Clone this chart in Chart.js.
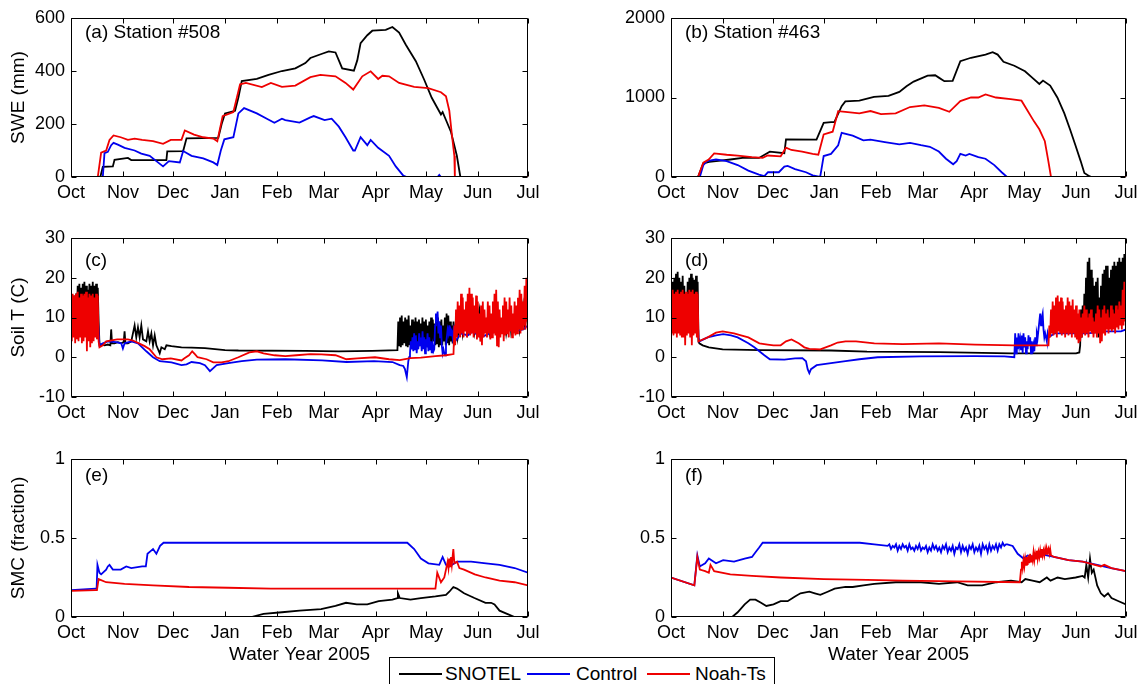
<!DOCTYPE html>
<html>
<head>
<meta charset="utf-8">
<title>Water Year 2005 – SWE, soil temperature and soil moisture</title>
<script src="https://cdn.jsdelivr.net/npm/chart.js@4.4.0/dist/chart.umd.min.js"></script>
<style>
  html, body { margin: 0; padding: 0; background: #fff; }
  body { width: 1145px; height: 684px; position: relative; overflow: hidden;
         font-family: 'Liberation Sans', Arial, sans-serif; }
  canvas { position: absolute; }
  #legend { position: absolute; left: 389px; top: 657px; width: 386px; height: 40px;
            border: 1px solid #000; background: #fff; box-sizing: border-box; }
  #legend .ln { position: absolute; top: 15px; width: 43px; height: 0; border-top: 2px solid; }
  #legend .tx { position: absolute; top: 5px; font-size: 19px; line-height: 22px; color: #000; white-space: nowrap; }
</style>
</head>
<body>
<canvas id="pa" width="560" height="205" style="left:0;top:0"></canvas>
<canvas id="pb" width="545" height="205" style="left:600px;top:0"></canvas>
<canvas id="pc" width="560" height="225" style="left:0;top:205px"></canvas>
<canvas id="pd" width="545" height="225" style="left:600px;top:205px"></canvas>
<canvas id="pe" width="560" height="254" style="left:0;top:430px"></canvas>
<canvas id="pf" width="545" height="254" style="left:600px;top:430px"></canvas>
<div id="legend">
  <div class="ln" style="left:9px;border-color:#000"></div><div class="tx" style="left:55px">SNOTEL</div>
  <div class="ln" style="left:137px;border-color:#0000ee"></div><div class="tx" style="left:186px">Control</div>
  <div class="ln" style="left:257px;border-color:#ee0000"></div><div class="tx" style="left:305px">Noah-Ts</div>
</div>
<script>
// ---------------- axis tick data (days since 1 Oct 2004) ----------------
const MONTH_DAYS  = [0, 31, 61, 92, 123, 151, 182, 212, 243, 273];
const MONTH_NAMES = ['Oct', 'Nov', 'Dec', 'Jan', 'Feb', 'Mar', 'Apr', 'May', 'Jun', 'Jul'];

// ---------------- SWE (mm), station #508: [day, value] ----------------
const swe508_snotel = [[0,0],[17.5,0],[19,38],[25,40],[26,65],[34,72],[36,64],[57,64],[57.5,97],[67,98],[69,146],[88,148],[90,200],[92,240],[98,250],[100,300],[102,362],[111,370],[118,385],[126,400],[134,410],[140,430],[143,449],[150,465],[154,474],[158,470],[160,440],[162,410],[169,401],[171,440],[173,505],[177,535],[180,552],[188,555],[192,566],[196,545],[200,499],[206,437],[211,367],[215.5,299],[221,236],[222,245],[224,215],[227,170],[230.5,80],[232.6,0],[273,0]];
const swe508_control = [[0,0],[19,0],[20,90],[22,95],[24,120],[25.4,129],[28,122],[32,110],[38,100],[42,88],[47,80],[51,60],[55,40],[58.5,60],[65,55],[67,98],[72,80],[79,70],[85,55],[87.4,45],[89.5,100],[91.6,142],[97,150],[100,240],[103.4,260],[111,240],[117,220],[121.5,205],[126,220],[128,215],[136.5,205],[143,225],[145,230],[151.5,215],[155.7,220],[160,190],[164,150],[168.6,100],[169.6,100],[173,150],[177,120],[179,140],[183.5,110],[190,80],[194,40],[198.5,5],[200.6,0],[219,0],[220,8],[221,0],[273,0]];
const swe508_noah = [[0,0],[16,0],[18,92],[21,100],[23,140],[25.4,157],[29.7,150],[34,140],[38,145],[42.5,140],[49,135],[55,125],[59.6,140],[66,140],[68,176],[73.5,160],[79,150],[85,145],[87.4,135],[90.6,230],[97,245],[101,350],[104.5,355],[114,339],[119.4,355],[126,340],[134,345],[143,377],[149,385],[158,380],[164,355],[168.6,330],[174,380],[179,399],[183.5,370],[186,382],[190,380],[196,355],[205,340],[213.4,335],[221,320],[224,305],[226,250],[227.7,150],[229,80],[229.3,0],[273,0]];

// ---------------- SWE (mm), station #463 ----------------
const swe463_snotel = [[0,0],[16.2,0],[19.4,172],[23,190],[27,200],[35.6,220],[44,243],[52.8,240],[59.3,318],[68,300],[69,473],[87.3,470],[91.6,682],[96,690],[98,690],[102.4,891],[104.6,950],[113,960],[121.8,1008],[130.5,1020],[137,1070],[141.3,1142],[145.6,1200],[154,1276],[158.5,1280],[160.7,1250],[164,1205],[169,1210],[173.6,1456],[180,1500],[188.7,1540],[193,1569],[196,1540],[199.5,1450],[206,1400],[212.4,1330],[216.7,1250],[221,1170],[223.2,1213],[227.5,1150],[231.8,1000],[236,800],[239.4,600],[242.6,402],[245.8,200],[248,50],[251,10],[252.3,0],[273,0]];
const swe463_control = [[0,0],[17.3,0],[19.4,150],[21.6,200],[27,220],[33.4,200],[40,150],[46.4,80],[52.8,30],[56,10],[58.2,60],[64.7,60],[68,130],[70,140],[74.4,100],[81,60],[85,20],[89.5,0],[91.6,264],[96,290],[100.3,400],[102.4,556],[109,520],[115.4,460],[119.7,470],[128.3,440],[137,410],[143.4,430],[150,400],[155.3,380],[160.7,320],[165,230],[169.3,160],[171.4,200],[173.6,290],[176.8,270],[179,290],[184.4,250],[188.7,230],[194,150],[198.4,60],[201.6,0],[273,0]];
const swe463_noah = [[0,0],[16.2,0],[19.4,180],[22.6,220],[25.9,297],[33.4,280],[40,270],[48.5,250],[55,240],[58,270],[65.8,260],[69,368],[72.2,340],[78.7,320],[85,290],[88.4,280],[91.6,535],[97,570],[100.3,828],[104.6,820],[113,800],[119.7,830],[126,790],[134.8,800],[143.4,880],[152,900],[160.7,870],[167,820],[173.6,954],[180,1000],[184.4,1000],[188.7,1038],[195,1000],[203.8,980],[210.3,960],[213.5,850],[217.8,700],[221,600],[224.3,450],[226.4,200],[228,0],[273,0]];

// ---------------- Soil T (C), station #508 ----------------
// half-daily highs/lows for the diurnal periods, [day, value] pairs elsewhere
const soilT508_snotel_oct = [14,9,15,9,15.5,9,16,10,18,10,18.5,10,17.5,10,18.5,10,19,10,18,11,17,10.5,18.5,10,18,10,19,10,18,10,18.5,10,17.5,9,3.5];
const soilT508_snotel_mid = [[17.5,3],[18,3.2],[20,3],[22,3.2],[23.5,3],[24,7],[24.5,3.5],[26,3.5],[28,3.8],[30,3.5],[31.5,3.8],[32,6.5],[32.5,3.5],[34,3.5],[36,4],[37,6],[38,8],[39,5],[40,7.5],[41,5],[42,8],[43,4.5],[45,4],[46,6.5],[47,4],[48,6],[49,3],[50,5.5],[51,3],[53,1],[54,2.5],[56,2],[57,3],[60,2.8],[66,2.5],[72,2.4],[80,2.3],[92,1.8],[100,1.7],[140,1.6],[160,1.5],[180,1.6],[195,1.8]];
const soilT508_snotel_spr = [9,3,10,2.5,10.5,3,9,3.5,10,3,9.5,2.5,10.5,3,8,3,9.5,4,9,3,10,2.5,9,3,9.5,3,8.5,3,10,3.5,9,3,9.5,3.5,8,3,9,2.5,10,3,9.5,4,8.5,3,9,3.5,10,2.5,9,3,9.5,3,8,4,10,3,11,3.5,10.5,3,9,4,8,3.5,9,4];
const soilT508_snotel_jun = [[229.5,5],[230,10],[231,5],[233,11],[234,6],[236,12],[237,6],[240,10],[241,6],[244,12],[245,5],[249,10],[250,6],[254,13],[255,6],[259,10],[260,6],[262,11],[263,6],[267,12],[268,7],[270,13],[271,7],[273,14]];
const soilT508_control_oct = [[0,12],[4,8],[8,12],[12,8],[16,10]];
const soilT508_control_mid = [[17,3],[19,3.5],[22,4],[27,3.8],[30,3.5],[31,2.2],[32,3.5],[36,4],[40,3.5],[45,1.5],[49,0],[53,-1],[60,-1.3],[66,-2],[69,-1.8],[72,-1.2],[77,-1.5],[80,-2],[83,-3.5],[87,-2],[94,-1.5],[102,-1],[111,-0.6],[128,-0.5],[150,-0.8],[164.6,-1.2],[181,-1],[192,-1.2],[196.4,-2],[198.5,-2.2],[199.5,-3],[200.6,-5],[201.5,-1]];
const soilT508_control_spr = [0,1,4,2,5,1.5,6,2,5.5,1,4,2,6,3,5,1.5,6.5,2,5,1,4.5,2.5,6,1.5,5,2,4,1,3,1.5,2,8,11,9,11.5,6,9,5,8,3,1,2,1,0.5,3,5,7,6,8,5.5,7,6.5,5,7,6];
const soilT508_control_jun = [[229.5,4],[233,6],[237,5.5],[240,6.5],[245,5],[250,6],[255,6.5],[260,7],[265,6.5],[270,7],[273,8]];
const soilT508_noah_oct = [15,4,16,5,15.5,3.5,16,4.5,16.5,4,15,5,16,3.5,15.5,4,16,5,16.5,1.5,15,4,16,2.5,15.5,3.5,16,4,15,5,16,4.5,15.5,4];
const soilT508_noah_mid = [[17,2.5],[19,3],[21,4],[27.6,4.5],[34,4.5],[37,4.2],[40.6,3.5],[44,2.8],[47,2],[51,0],[54.6,-0.5],[59.6,-0.3],[66,-0.8],[68,-0.2],[70.5,0.5],[72.4,1.5],[74,0.8],[75.6,0],[81,-0.5],[85,-1.3],[90,-1.3],[94,-1],[100,0],[106.6,1.2],[111,1.5],[115,1],[121.6,0.5],[128,0.3],[134.6,0.5],[143,0.8],[149.6,0.7],[158,0.5],[160,0.2],[164.5,-0.5],[171,-0.3],[181.6,0],[190,-0.5],[196.4,-0.7],[202.8,-0.2],[209,-0.1],[217.7,0.3],[224,0.5],[228.5,0.8]];
const soilT508_noah_jun = [8,3,12,5,14,6,13,5,16,6,15,5,12,6.5,14,5,16,6,17.5,5.5,16,6,15,5,13,6,15.5,4.5,14,5,11,4,13,3,14,5,12,6,10,5,14,6,13,4.5,11,5,14,6,16,5.5,17,3,14,2.5,12,5,10,6,13,4,15,5.5,14,6,12,5,15,6.5,13,5,11,6,14,5.5,13,6,15,7,17,6,16,7,14,8,18,7,20,9,22];

// ---------------- Soil T (C), station #463 ----------------
const soilT463_snotel_oct = [18,8,19,8,20,9,21,9,21.5,9,20,8,19,9,20.5,9,18,10,12,10,19,9,20,9,21,9,20,8,19.5,8,20.5,9,19,4];
const soilT463_snotel_mid = [[17,3.5],[19,3],[22.7,2.5],[31,2],[53,1.8],[96,1.7],[117.6,1.4],[161,1.3],[204,1],[243,1],[245,1.2]];
const soilT463_snotel_jun = [3,12,5,13,6,16,7,20,8,24,9,25,8,22,9,20,8,18,7,19,8,20,5,15,6,18,8,21,9,22,8,23,9,23,8,20,9,22,10,23,9,24,10,23,9,24,10,25,11,24,10,25,11,26,12,27];
const soilT463_control_oct = [[0,10],[16,10]];
const soilT463_control_mid = [[16.5,5],[17,4],[22,5],[27,5.5],[31.3,5.8],[36,5.5],[40,5],[46.4,3.5],[50,2.5],[53,1.5],[56,0.5],[59.3,-0.5],[68,-0.6],[74.4,-0.3],[78.8,-0.2],[81,-1],[82,-3],[83,-4],[84,-3],[87.4,-2],[96,-1.5],[104.7,-1],[113,-0.5],[124,0],[150,0.2],[182,0.3],[200,0.2],[206,0]];
const soilT463_control_spr = [6,1,5,2,6,3,4.5,2,5.5,1,6,2.5,5,1,4,2,5.5,3,5,1,4,1,3,1.5,5,3,6,5,7,9,11,8,10,11,7,5,6,5,4,6];
const soilT463_control_jun = [[226.5,5],[230,6],[240,6],[250,6],[260,6.5],[270,6.5],[273,7]];
const soilT463_noah_oct = [16,6,17,5.5,16,6,16.5,5,17,6,16,5.5,16.5,5,17,5,16,3,16.5,5.5,16,6,17,5,16.5,3,17,5.5,16,6,16.5,5,16];
const soilT463_noah_mid = [[16.5,4],[17,4.1],[22,5],[27,6.2],[31,6.5],[37.8,6],[42,5.5],[46.4,5],[53,3.5],[58,3.2],[61.5,3],[65.8,3],[69,4],[72.3,4.5],[76.6,3.5],[80,2.5],[83,2.1],[89.6,2],[96,3],[100,3.7],[104.7,4],[111,4],[122,3.5],[139,3.3],[160.8,3.5],[182.4,3.2],[206,3],[225.5,3]];
const soilT463_noah_jun = [3,8,5,12,6,14,5.5,13,6,15,5,15.5,6.5,14,6,15,5.5,14,6,12,5,13,6,15,5.5,14,6,13,5,14.5,6,12,5,13,4.5,11,3.5,12,4,10,5,11,6,13,5.5,12,6,10,5,11,6.5,12,6,10,5,9,6,11,5,13,6,12,3.5,10,4,12,6,13,5.5,11,7,12,6,10,7,13,6.5,12,7,11,6,13,7.5,12,7,14,8,13,7,17,8,19,9,20];

// ---------------- SMC (fraction), station #508 ----------------
const smc508_snotel = [[0,0],[107.7,0],[115,0.02],[126,0.03],[136.5,0.04],[149.4,0.05],[158,0.07],[164.3,0.09],[170.7,0.08],[177,0.08],[183.8,0.1],[192,0.11],[195,0.12],[195.3,0.15],[196.4,0.12],[202.8,0.11],[209,0.12],[217.7,0.13],[224,0.14],[226,0.16],[228.4,0.19],[230.6,0.18],[234.8,0.15],[241,0.12],[247.6,0.09],[251,0.09],[253,0.08],[256,0.04],[260.5,0.02],[265,0],[273,0]];
const smc508_control = [[0,0.17],[14.7,0.18],[15.3,0.18],[15.8,0.33],[17,0.28],[18,0.27],[21,0.3],[22,0.32],[23,0.33],[25,0.3],[29.7,0.3],[33,0.32],[36,0.31],[42.5,0.32],[44.7,0.32],[45.7,0.4],[47.9,0.42],[49,0.43],[51,0.4],[53.2,0.45],[55.3,0.47],[200.9,0.47],[205,0.43],[209,0.37],[213.5,0.34],[220,0.33],[222,0.38],[224,0.33],[226,0.32],[230.6,0.35],[239,0.35],[247.9,0.34],[256,0.33],[265,0.31],[273,0.28]];
const smc508_noah = [[0,0.165],[14.7,0.17],[15.5,0.17],[16.5,0.24],[21,0.22],[32,0.21],[49,0.2],[70.5,0.19],[93.8,0.185],[119.4,0.18],[217.7,0.18],[218.8,0.28],[221,0.22],[223,0.25],[224,0.3],[225,0.35],[225.5,0.31],[226,0.37],[226.5,0.32],[227,0.38],[227.5,0.33],[228.4,0.43],[229,0.34],[230.6,0.35],[232,0.31],[234.8,0.3],[241.2,0.27],[247.6,0.25],[256,0.23],[265,0.22],[273,0.2]];

// ---------------- SMC (fraction), station #463 ----------------
const smc463_snotel = [[0,0],[36.7,0],[40,0.03],[44.2,0.08],[47.5,0.11],[50.7,0.11],[54,0.09],[57.2,0.07],[61.5,0.08],[65.8,0.1],[70,0.1],[74.4,0.13],[77.7,0.15],[83,0.16],[86.3,0.15],[89.6,0.14],[94,0.16],[98.2,0.18],[104.7,0.19],[109,0.19],[115.5,0.2],[122,0.21],[134.9,0.22],[150,0.22],[160.8,0.21],[171.6,0.22],[178,0.2],[186.7,0.2],[195.3,0.22],[204,0.23],[210.4,0.22],[212.6,0.24],[216.9,0.23],[221.2,0.22],[225.5,0.25],[227.7,0.23],[232,0.25],[236.3,0.24],[242.8,0.25],[247,0.26],[248.2,0.25],[249.2,0.33],[250.3,0.25],[251.4,0.37],[252.5,0.28],[253.6,0.3],[255.7,0.2],[257.9,0.15],[260,0.13],[262.2,0.15],[264.3,0.12],[268.6,0.1],[273,0.08]];
const smc463_control_early = [[0,0.25],[14,0.2],[15.8,0.39],[17.3,0.32],[20.5,0.34],[22.7,0.37],[27,0.34],[31.3,0.36],[37.8,0.35],[44.2,0.37],[48.6,0.38],[50.7,0.41],[52.9,0.44],[55,0.47],[113.3,0.47],[122,0.46],[130,0.45]];
const smc463_control_band = [0.46,0.43,0.45,0.44,0.46,0.42,0.45,0.43,0.46,0.44,0.45,0.42,0.46,0.43,0.44,0.42,0.45,0.43,0.46,0.42,0.44,0.43,0.45,0.41,0.44,0.42,0.46,0.43,0.45,0.42,0.44,0.41,0.45,0.43,0.46,0.41,0.44,0.42,0.45,0.4,0.44,0.43,0.46,0.41,0.45,0.42,0.44,0.4,0.45,0.43,0.46,0.41,0.44,0.42,0.45,0.4,0.46,0.43,0.45,0.41,0.46,0.42,0.45,0.43,0.46,0.42,0.46,0.44,0.47,0.45,0.46];
const smc463_control_late = [[201.8,0.46],[205,0.45],[208,0.4],[211.5,0.37],[214,0.39],[218,0.38],[222,0.4],[225.5,0.39],[229.8,0.38],[238.5,0.36],[247,0.35],[255.7,0.33],[264,0.31],[273,0.29]];
const smc463_noah_early = [[0,0.25],[14,0.2],[15.8,0.38],[17.3,0.3],[20.5,0.29],[22.7,0.28],[23.7,0.33],[25.9,0.29],[35.6,0.27],[48.6,0.26],[65.8,0.25],[91.7,0.24],[117.6,0.235],[139,0.23],[171.6,0.225],[209.3,0.22]];
const smc463_noah_band = [0.3,0.35,0.31,0.36,0.32,0.37,0.33,0.38,0.33,0.39,0.34,0.4,0.35,0.39,0.36,0.41,0.36,0.4,0.37,0.42,0.37,0.41,0.38,0.42,0.38,0.43,0.39,0.42,0.39,0.43,0.4,0.43,0.41,0.43,0.4,0.43,0.39];
const smc463_noah_late = [[229.8,0.38],[238.5,0.36],[247,0.35],[251,0.34],[257.9,0.32],[260,0.33],[264.3,0.31],[273,0.29]];

// ---------------- helpers to turn the tables into {x, y} points ----------------
function pts(list) { return list.map(([x, y]) => ({ x, y })); }
// evenly spaced samples between two days (half-daily highs/lows etc.)
function run(from, to, vals) {
  const step = (to - from) / (vals.length - 1);
  return vals.map((y, i) => ({ x: from + i * step, y }));
}

const BLACK = '#000000', BLUE = '#0000ee', RED = '#ee0000';
const FONT = "'Liberation Sans', Arial, Helvetica, sans-serif";
Chart.defaults.font.family = FONT;
Chart.defaults.font.size = 18;
Chart.defaults.color = '#000';

// box with inward tick marks on all four sides, plus the panel caption
const framePlugin = {
  id: 'frame',
  afterDatasetsDraw(chart, args, opts) {
    const { ctx, chartArea: a } = chart;
    const xs = chart.scales.x, ys = chart.scales.y;
    const L = Math.round(a.left) + 0.5, R = Math.round(a.right) - 0.5;
    const T = Math.round(a.top) + 0.5, B = Math.round(a.bottom) - 0.5;
    ctx.save();
    ctx.strokeStyle = '#000';
    ctx.lineWidth = 1;
    ctx.beginPath();
    ctx.rect(L, T, R - L, B - T);
    const len = 5;
    xs.ticks.forEach(t => {
      const p = Math.round(xs.getPixelForValue(t.value)) + 0.5;
      ctx.moveTo(p, B); ctx.lineTo(p, B - len);
      ctx.moveTo(p, T); ctx.lineTo(p, T + len);
    });
    ys.ticks.forEach(t => {
      const p = Math.round(ys.getPixelForValue(t.value)) + 0.5;
      ctx.moveTo(L, p); ctx.lineTo(L + len, p);
      ctx.moveTo(R, p); ctx.lineTo(R - len, p);
    });
    ctx.stroke();
    if (opts.text) {
      ctx.fillStyle = '#000';
      ctx.font = '19px ' + FONT;
      ctx.textAlign = 'left';
      ctx.textBaseline = 'middle';
      ctx.fillText(opts.text, a.left + 14, a.top + opts.dy);
    }
    ctx.restore();
  }
};

const COLS = [ { padRight: 32 }, { padRight: 19 } ];
const ROWS = [ { padTop: 18, xH: 28 }, { padTop: 33, xH: 33 }, { padTop: 29, xH: 67 } ];

function panel(id, col, row, yCfg, caption, captionDy, snotel, control, noah) {
  const c = COLS[col], r = ROWS[row];
  const ds = (label, data, color, order) => ({
    label, data, borderColor: color, backgroundColor: color, order,
    borderWidth: 1.8, pointRadius: 0, tension: 0, fill: false
  });
  return new Chart(document.getElementById(id), {
    type: 'line',
    data: { datasets: [
      ds('SNOTEL', snotel, BLACK, 3),
      ds('Control', control, BLUE, 2),
      ds('Noah-Ts', noah, RED, 1)
    ] },
    options: {
      responsive: false, animation: false, devicePixelRatio: 1, events: [],
      layout: { padding: { left: 0, right: c.padRight, top: r.padTop, bottom: 0 } },
      plugins: { legend: { display: false }, tooltip: { enabled: false },
                 frame: { text: caption, dy: captionDy } },
      scales: {
        x: {
          type: 'linear', min: 0, max: 273,
          grid: { display: false, drawTicks: false }, border: { display: false },
          afterBuildTicks: s => { s.ticks = MONTH_DAYS.map(v => ({ value: v })); },
          afterFit: s => { s.height = r.xH; s.paddingLeft = 0; s.paddingRight = 0; },
          ticks: { autoSkip: false, maxRotation: 0, minRotation: 0, padding: 5,
                   callback: v => MONTH_NAMES[MONTH_DAYS.indexOf(v)] },
          title: row === 2
            ? { display: true, text: 'Water Year 2005', font: { size: 19 }, padding: { top: 0, bottom: 18 } }
            : { display: false }
        },
        y: {
          min: yCfg.min, max: yCfg.max,
          grid: { display: false, drawTicks: false }, border: { display: false },
          afterFit: s => { s.width = 71; s.paddingTop = 0; s.paddingBottom = 0; },
          ticks: { stepSize: yCfg.step, padding: 6, callback: v => String(v) },
          title: col === 0
            ? { display: true, text: yCfg.title, font: { size: 19 }, padding: { top: 7, bottom: 0 } }
            : { display: false }
        }
      }
    },
    plugins: [framePlugin]
  });
}

const sweAxis508 = { min: 0, max: 600, step: 200, title: 'SWE (mm)' };
const sweAxis463 = { min: 0, max: 2000, step: 1000, title: 'SWE (mm)' };
const soilTAxis  = { min: -10, max: 30, step: 10, title: 'Soil T (C)' };
const smcAxis    = { min: 0, max: 1, step: 0.5, title: 'SMC (fraction)' };

panel('pa', 0, 0, sweAxis508, '(a) Station #508', 15,
  pts(swe508_snotel), pts(swe508_control), pts(swe508_noah));
panel('pb', 1, 0, sweAxis463, '(b) Station #463', 15,
  pts(swe463_snotel), pts(swe463_control), pts(swe463_noah));

panel('pc', 0, 1, soilTAxis, '(c)', 23,
  [...run(0, 17, soilT508_snotel_oct), ...pts(soilT508_snotel_mid),
   ...run(195.5, 229, soilT508_snotel_spr), ...pts(soilT508_snotel_jun)],
  [...pts(soilT508_control_oct), ...pts(soilT508_control_mid),
   ...run(202, 229, soilT508_control_spr), ...pts(soilT508_control_jun)],
  [...run(0, 16.5, soilT508_noah_oct), ...pts(soilT508_noah_mid),
   ...run(229, 273, soilT508_noah_jun)]);

panel('pd', 1, 1, soilTAxis, '(d)', 23,
  [...run(0, 16.5, soilT463_snotel_oct), ...pts(soilT463_snotel_mid),
   ...run(245.5, 273, soilT463_snotel_jun)],
  [...pts(soilT463_control_oct), ...pts(soilT463_control_mid),
   ...run(206.5, 226, soilT463_control_spr), ...pts(soilT463_control_jun)],
  [...run(0, 16, soilT463_noah_oct), ...pts(soilT463_noah_mid),
   ...run(226.5, 273, soilT463_noah_jun)]);

panel('pe', 0, 2, smcAxis, '(e)', 17,
  pts(smc508_snotel), pts(smc508_control), pts(smc508_noah));

panel('pf', 1, 2, smcAxis, '(f)', 17,
  pts(smc463_snotel),
  [...pts(smc463_control_early), ...run(131, 201, smc463_control_band), ...pts(smc463_control_late)],
  [...pts(smc463_noah_early), ...run(210, 228, smc463_noah_band), ...pts(smc463_noah_late)]);
</script>
</body>
</html>
